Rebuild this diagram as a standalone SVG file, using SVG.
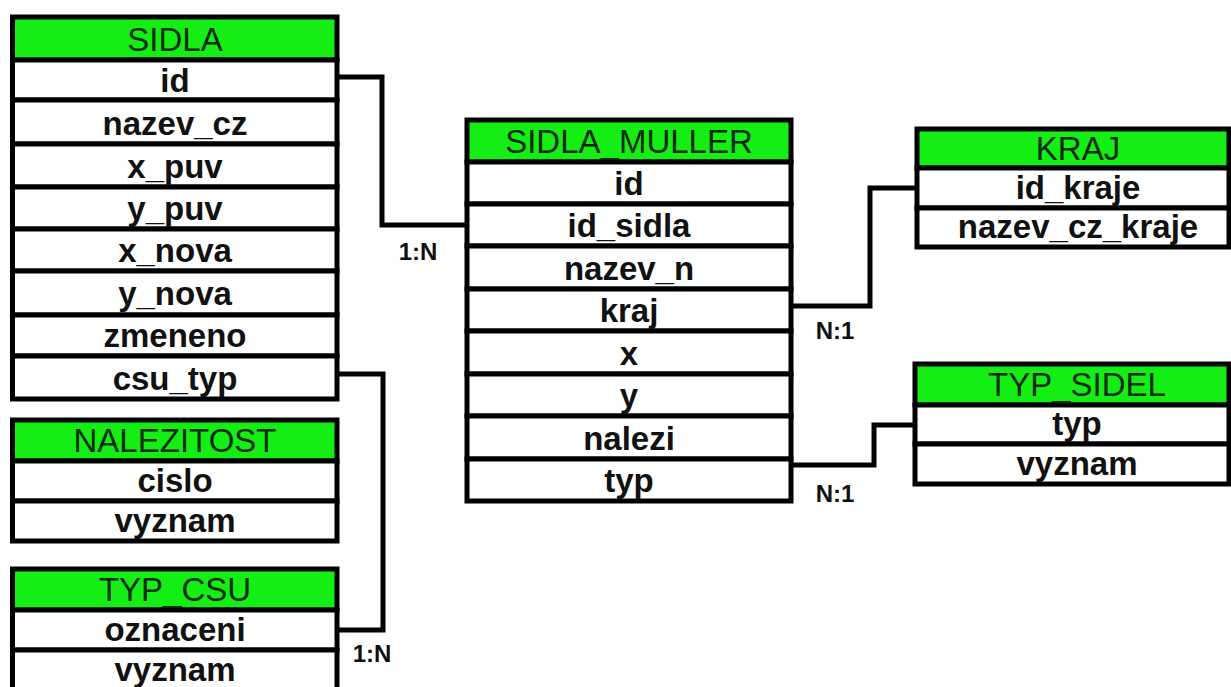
<svg xmlns="http://www.w3.org/2000/svg" width="1231" height="687" viewBox="0 0 1231 687">
<style>
.h{fill:#14ee14;stroke:#000;stroke-width:5}
.r{fill:#fff;stroke:#000;stroke-width:5}
.ht{font-family:"Liberation Sans",Arial,sans-serif;font-size:33px;fill:#0d2a0d;text-anchor:middle}
.t{font-family:"Liberation Sans",Arial,sans-serif;font-size:33px;font-weight:bold;fill:#111;text-anchor:middle}
.c{fill:none;stroke:#000;stroke-width:5}
.l{font-family:"Liberation Sans",Arial,sans-serif;font-size:24px;font-weight:bold;fill:#111;text-anchor:middle}
</style>
<rect width="1231" height="687" fill="#fff"/>
<g id="connectors">
<polyline class="c" points="337,77 382,77 382,225 467,225"/>
<polyline class="c" points="337,374 383,374 383,630 337,630"/>
<polyline class="c" points="791,306 870,306 870,188 917,188"/>
<polyline class="c" points="791,465 874,465 874,425 915,425"/>
<text class="l" x="418" y="260">1:N</text>
<text class="l" x="372" y="662">1:N</text>
<text class="l" x="835" y="339">N:1</text>
<text class="l" x="835" y="502">N:1</text>
</g>
<g id="sidla">
<rect class="h" x="12.5" y="17" width="324.5" height="43"/>
<rect class="r" x="12.5" y="60" width="324.5" height="40"/>
<rect class="r" x="12.5" y="100" width="324.5" height="44"/>
<rect class="r" x="12.5" y="144" width="324.5" height="43"/>
<rect class="r" x="12.5" y="187" width="324.5" height="42"/>
<rect class="r" x="12.5" y="229" width="324.5" height="42"/>
<rect class="r" x="12.5" y="271" width="324.5" height="44"/>
<rect class="r" x="12.5" y="315" width="324.5" height="41"/>
<rect class="r" x="12.5" y="356" width="324.5" height="43"/>
<text class="ht" x="175" y="51">SIDLA</text>
<text class="t" x="175" y="92">id</text>
<text class="t" x="175" y="135">nazev_cz</text>
<text class="t" x="175" y="178">x_puv</text>
<text class="t" x="175" y="220">y_puv</text>
<text class="t" x="175" y="262">x_nova</text>
<text class="t" x="175" y="305">y_nova</text>
<text class="t" x="175" y="347">zmeneno</text>
<text class="t" x="175" y="390">csu_typ</text>
</g>
<g id="nalezitost">
<rect class="h" x="12.5" y="420" width="324.5" height="41"/>
<rect class="r" x="12.5" y="461" width="324.5" height="40"/>
<rect class="r" x="12.5" y="501" width="324.5" height="40"/>
<text class="ht" x="175" y="452">NALEZITOST</text>
<text class="t" x="175" y="492">cislo</text>
<text class="t" x="175" y="532">vyznam</text>
</g>
<g id="typ_csu">
<rect class="h" x="12.5" y="569" width="324.5" height="41"/>
<rect class="r" x="12.5" y="610" width="324.5" height="40"/>
<rect class="r" x="12.5" y="650" width="324.5" height="41"/>
<text class="ht" x="175" y="601">TYP_CSU</text>
<text class="t" x="175" y="641">oznaceni</text>
<text class="t" x="175" y="681">vyznam</text>
</g>
<g id="sidla_muller">
<rect class="h" x="467" y="120" width="324" height="42"/>
<rect class="r" x="467" y="162" width="324" height="42"/>
<rect class="r" x="467" y="204" width="324" height="42"/>
<rect class="r" x="467" y="246" width="324" height="43"/>
<rect class="r" x="467" y="289" width="324" height="42"/>
<rect class="r" x="467" y="331" width="324" height="43"/>
<rect class="r" x="467" y="374" width="324" height="42"/>
<rect class="r" x="467" y="416" width="324" height="43"/>
<rect class="r" x="467" y="459" width="324" height="42"/>
<text class="ht" x="629" y="153">SIDLA_MULLER</text>
<text class="t" x="629" y="195">id</text>
<text class="t" x="629" y="237">id_sidla</text>
<text class="t" x="629" y="280">nazev_n</text>
<text class="t" x="629" y="322">kraj</text>
<text class="t" x="629" y="365">x</text>
<text class="t" x="629" y="407">y</text>
<text class="t" x="629" y="450">nalezi</text>
<text class="t" x="629" y="492">typ</text>
</g>
<g id="kraj">
<rect class="h" x="917" y="129" width="312" height="39"/>
<rect class="r" x="917" y="168" width="312" height="40"/>
<rect class="r" x="917" y="208" width="312" height="39"/>
<text class="ht" x="1078" y="160">KRAJ</text>
<text class="t" x="1078" y="199">id_kraje</text>
<text class="t" x="1078" y="238">nazev_cz_kraje</text>
</g>
<g id="typ_sidel">
<rect class="h" x="915" y="364" width="314" height="41"/>
<rect class="r" x="915" y="405" width="314" height="39"/>
<rect class="r" x="915" y="444" width="314" height="40"/>
<text class="ht" x="1077" y="396">TYP_SIDEL</text>
<text class="t" x="1077" y="435">typ</text>
<text class="t" x="1077" y="475">vyznam</text>
</g>
</svg>
